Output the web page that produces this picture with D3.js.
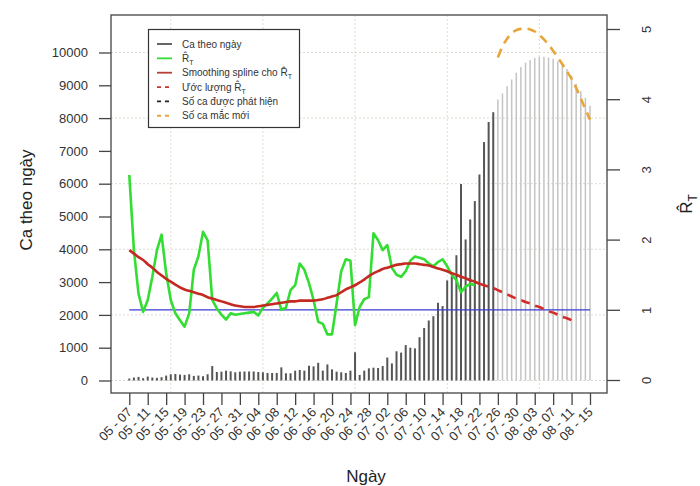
<!DOCTYPE html>
<html>
<head>
<meta charset="utf-8">
<script src="https://cdn.jsdelivr.net/npm/d3@7"></script>
<style>
  body { margin: 0; background: #fff; }
  svg { display: block; }
  text { font-family: "Liberation Sans", Arial, Helvetica, sans-serif; }
</style>
</head>
<body>
<svg id="chart" width="700" height="486"></svg>
<script>
// First day of the observed series
const startDate = "2021-05-07";

// Daily reported cases, 05-07 .. 07-25
const dailyCases = [
  60, 90, 110, 70, 120, 90, 80, 100, 150, 190,
  200, 180, 170, 190, 140, 150, 130, 190, 440, 260,
  270, 300, 280, 250, 270, 275, 275, 275, 260, 250,
  230, 230, 230, 400, 220, 220, 300, 320, 300, 450,
  430, 540, 300, 490, 340, 270, 250, 230, 300, 860,
  170, 300, 370, 390, 380, 440, 700, 520, 890, 850,
  1080, 1000, 980, 1320, 1600, 1830, 1960, 2370, 2270, 3050,
  3180, 3820, 5990, 4300, 4910, 5470, 6280, 7270, 7880, 8180
];

// Projected detected cases, 07-26 .. 08-15
const projectedStart = "2021-07-26";
const projectedCases = [
  8570, 8750, 8970, 9180, 9380, 9560, 9690, 9770, 9830, 9870,
  9870, 9850, 9810, 9730, 9630, 9500, 9300, 9050, 8820, 8620, 8380
];

// Projected new infections, 07-26 .. 08-15
const newInfections = [
  9850, 10180, 10420, 10580, 10680, 10720, 10730, 10700, 10640, 10530,
  10400, 10240, 10050, 9850, 9640, 9420, 9200, 8920, 8600, 8280, 7950
];

// Estimated reproduction number R_T, 05-07 .. 07-21
const rtEstimate = [
  2.92, 1.85, 1.23, 0.97, 1.14, 1.47, 1.85, 2.07, 1.52, 1.14,
  0.95, 0.85, 0.76, 0.95, 1.57, 1.76, 2.11, 1.99, 1.14, 1.02,
  0.93, 0.86, 0.95, 0.93, 0.94, 0.95, 0.96, 0.97, 0.92, 1.03,
  1.09, 1.16, 1.24, 1.00, 1.03, 1.28, 1.35, 1.66, 1.57, 1.38,
  1.14, 0.83, 0.80, 0.65, 0.65, 1.09, 1.55, 1.72, 1.70, 0.78,
  1.04, 1.15, 1.18, 2.09, 1.99, 1.85, 1.92, 1.60, 1.50, 1.47,
  1.55, 1.70, 1.76, 1.74, 1.72, 1.66, 1.62, 1.68, 1.72, 1.62,
  1.50, 1.42, 1.25, 1.33, 1.37, 1.35
];

// Smoothing spline of R_T, 05-07 .. 07-22
const rtSpline = [
  1.85, 1.80, 1.75, 1.71, 1.65, 1.60, 1.54, 1.49, 1.44, 1.40,
  1.36, 1.32, 1.29, 1.27, 1.25, 1.23, 1.21, 1.18, 1.16, 1.14,
  1.12, 1.10, 1.08, 1.06, 1.05, 1.04, 1.04, 1.04, 1.05, 1.06,
  1.07, 1.08, 1.09, 1.10, 1.11, 1.12, 1.12, 1.13, 1.13, 1.13,
  1.13, 1.14, 1.15, 1.17, 1.19, 1.21, 1.25, 1.29, 1.32, 1.35,
  1.39, 1.43, 1.48, 1.52, 1.55, 1.58, 1.60, 1.62, 1.64, 1.65,
  1.66, 1.66, 1.66, 1.65, 1.64, 1.63, 1.61, 1.59, 1.57, 1.55,
  1.52, 1.50, 1.47, 1.45, 1.42, 1.40, 1.37
];

// Forecast of R_T, 07-22 .. 08-11
const forecastStart = "2021-07-22";
const rtForecast = [
  1.37, 1.35, 1.33, 1.31, 1.28, 1.25, 1.22, 1.19, 1.16, 1.14,
  1.11, 1.09, 1.06, 1.04, 1.01, 0.98, 0.96, 0.93, 0.90, 0.88, 0.85
];

const rtThreshold = 1;

const tickDates = [
  "05-07", "05-11", "05-15", "05-19", "05-23", "05-27", "05-31", "06-04",
  "06-08", "06-12", "06-16", "06-20", "06-24", "06-28", "07-02", "07-06",
  "07-10", "07-14", "07-18", "07-22", "07-26", "07-30", "08-03", "08-07",
  "08-11", "08-15"
];
const gridDates = ["05-16", "06-05", "06-25", "07-15", "08-04"];
const leftTicks = [0, 1000, 2000, 3000, 4000, 5000, 6000, 7000, 8000, 9000, 10000];
const leftGrid = [0, 2000, 4000, 6000, 8000, 10000];
const rightTicks = [0, 1, 2, 3, 4, 5];

const legendItems = [
  { label: "Ca theo ngày", color: "#555555", dash: null, rhat: false },
  { label: "", color: "#33dd33", dash: null, rhat: true },
  { label: "Smoothing spline cho ", color: "#b5403a", dash: null, rhat: true },
  { label: "Ước lượng ", color: "#cc3333", dash: "4,4", rhat: true },
  { label: "Số ca được phát hiện", color: "#222222", dash: "4,4", rhat: false },
  { label: "Số ca mắc mới", color: "#e8a63a", dash: "4,4", rhat: false }
];

const parse = d3.timeParse("%Y-%m-%d");
const year = startDate.slice(0, 4);
const md = s => parse(year + "-" + s);
const t0 = parse(startDate);
const seq = (start, values) => values.map((v, i) => ({ date: d3.timeDay.offset(start, i), v }));

const caseData = seq(t0, dailyCases);
const projData = seq(parse(projectedStart), projectedCases);
const infData = seq(parse(projectedStart), newInfections);
const rtData = seq(t0, rtEstimate);
const splineData = seq(t0, rtSpline);
const forecastData = seq(parse(forecastStart), rtForecast);

const svg = d3.select("#chart");
const box = { left: 111, right: 607, top: 15, bottom: 393 };

const x = d3.scaleTime()
  .domain([md(tickDates[0]), md(tickDates[tickDates.length - 1])])
  .range([129.3, 590]);
const yL = d3.scaleLinear().domain([0, 10000]).range([380.5, 52.5]);
const yR = d3.scaleLinear().domain([0, 5]).range([380, 29]);

// Dotted grid
const grid = svg.append("g").attr("stroke", "#dcdcd0").attr("stroke-width", 1)
  .attr("stroke-dasharray", "2,2");
grid.selectAll("line.h").data(leftGrid).join("line")
  .attr("x1", box.left).attr("x2", box.right)
  .attr("y1", d => yL(d)).attr("y2", d => yL(d));
grid.selectAll("line.v").data(gridDates).join("line")
  .attr("x1", d => x(md(d))).attr("x2", d => x(md(d)))
  .attr("y1", box.top).attr("y2", box.bottom);

// Projected case bars
svg.append("g").selectAll("line").data(projData).join("line")
  .attr("x1", d => x(d.date)).attr("x2", d => x(d.date))
  .attr("y1", yL(0)).attr("y2", d => yL(d.v))
  .attr("stroke", "#c4c4c4").attr("stroke-width", 1.5);

// Daily case bars
svg.append("g").selectAll("line").data(caseData).join("line")
  .attr("x1", d => x(d.date)).attr("x2", d => x(d.date))
  .attr("y1", yL(0)).attr("y2", d => yL(d.v))
  .attr("stroke", "#555555").attr("stroke-width", 2);

// Threshold R = 1
svg.append("line")
  .attr("x1", x(md(tickDates[0]))).attr("x2", x(md(tickDates[tickDates.length - 1])))
  .attr("y1", yR(rtThreshold)).attr("y2", yR(rtThreshold))
  .attr("stroke", "#3b3bd4").attr("stroke-width", 1.3);

const lineR = d3.line().x(d => x(d.date)).y(d => yR(d.v));
const lineL = d3.line().x(d => x(d.date)).y(d => yL(d.v)).curve(d3.curveMonotoneX);

svg.append("path").datum(rtData).attr("d", lineR)
  .attr("fill", "none").attr("stroke", "#33dd33").attr("stroke-width", 2.6)
  .attr("stroke-linejoin", "round");

svg.append("path").datum(splineData).attr("d", lineR.curve(d3.curveMonotoneX))
  .attr("fill", "none").attr("stroke", "#c42a22").attr("stroke-width", 2.6);

svg.append("path").datum(forecastData).attr("d", lineR)
  .attr("fill", "none").attr("stroke", "#d42a2a").attr("stroke-width", 2.6)
  .attr("stroke-dasharray", "9,6");

svg.append("path").datum(infData).attr("d", lineL)
  .attr("fill", "none").attr("stroke", "#e8a63a").attr("stroke-width", 2.6)
  .attr("stroke-dasharray", "9,6");

// Frame
svg.append("rect")
  .attr("x", box.left).attr("y", box.top)
  .attr("width", box.right - box.left).attr("height", box.bottom - box.top)
  .attr("fill", "none").attr("stroke", "#444").attr("stroke-width", 1.3);

const axisColor = "#444";
const labelColor = "#333";

// Left axis
const gl = svg.append("g").attr("transform", `translate(${box.left},0)`)
  .call(d3.axisLeft(yL).tickValues(leftTicks).tickSize(12).tickPadding(11)
    .tickFormat(d3.format("d")));
gl.select(".domain").remove();
gl.selectAll("line").attr("stroke", axisColor).attr("stroke-width", 1.3);
gl.selectAll("text").attr("font-size", 13).attr("fill", labelColor);

// Right axis
const gr = svg.append("g").attr("transform", `translate(${box.right},0)`)
  .call(d3.axisRight(yR).tickValues(rightTicks).tickSize(13).tickFormat(d3.format("d")));
gr.select(".domain").remove();
gr.selectAll("line").attr("stroke", axisColor).attr("stroke-width", 1.3);
gr.selectAll("text").attr("font-size", 13).attr("fill", labelColor)
  .attr("x", null).attr("dy", null)
  .attr("text-anchor", "middle")
  .attr("transform", "translate(44,0) rotate(-90)");

// Bottom axis
const fmt = d3.timeFormat("%m - %d");
const gb = svg.append("g").attr("transform", `translate(0,${box.bottom})`)
  .call(d3.axisBottom(x).tickValues(tickDates.map(md)).tickSize(12).tickFormat(fmt));
gb.select(".domain").remove();
gb.selectAll("line").attr("stroke", axisColor).attr("stroke-width", 1.3);
gb.selectAll("text").attr("font-size", 13).attr("fill", labelColor)
  .attr("y", null).attr("dy", null)
  .attr("text-anchor", "end")
  .attr("transform", "translate(3,20) rotate(-45)");

// Axis titles
svg.append("text").attr("transform", "translate(32,200) rotate(-90)")
  .attr("text-anchor", "middle").attr("font-size", 17).attr("fill", "#222")
  .text("Ca theo ngày");
svg.append("text").attr("x", 366).attr("y", 482)
  .attr("text-anchor", "middle").attr("font-size", 17).attr("fill", "#222")
  .text("Ngày");

function addRhat(sel, size) {
  sel.append("tspan").text("R\u0302");
  sel.append("tspan").attr("dy", size * 0.3).attr("font-size", size * 0.7).text("T");
}
const rTitle = svg.append("text").attr("transform", "translate(692,204) rotate(-90)")
  .attr("text-anchor", "middle").attr("font-size", 17).attr("fill", "#222");
addRhat(rTitle, 17);

// Legend
const lg = svg.append("g");
lg.append("rect").attr("x", 148.5).attr("y", 29.5).attr("width", 151).attr("height", 98)
  .attr("fill", "#fff").attr("stroke", "#333").attr("stroke-width", 1.2);
legendItems.forEach((item, i) => {
  const yy = 44 + i * 14.35;
  lg.append("line").attr("x1", 157).attr("x2", 172).attr("y1", yy).attr("y2", yy)
    .attr("stroke", item.color).attr("stroke-width", 1.8)
    .attr("stroke-dasharray", item.dash);
  const t = lg.append("text").attr("x", 182).attr("y", yy + 3.5)
    .attr("font-size", 10).attr("fill", "#333");
  if (item.label) t.append("tspan").text(item.label);
  if (item.rhat) addRhat(t, 10);
});
</script>
</body>
</html>
